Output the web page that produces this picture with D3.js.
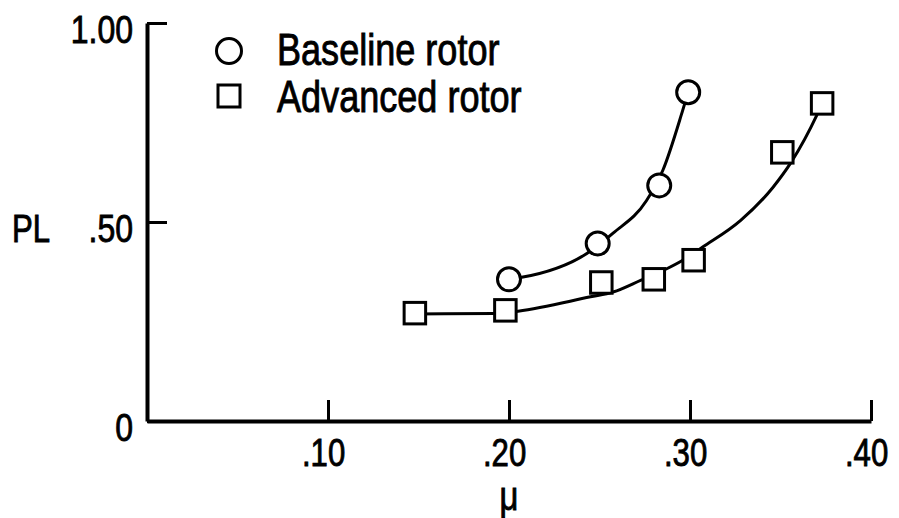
<!DOCTYPE html>
<html>
  <head>
    <title>PL vs mu - baseline and advanced rotor</title>
    <meta charset="UTF-8">
    <script src="https://d3js.org/d3.v7.min.js"></script>
  </head>
  <style type="text/css">
    body {
      margin: 0px;
      padding: 0px;
      background: #fff;
    }
    text {
      font-family: "Liberation Sans", Arial, sans-serif;
      fill: #000;
      stroke: #000;
      stroke-width: 0.9px;
    }
  </style>
  <body>
    <div id="chart"></div>
    <script>
      // measured points
      const baselineMu = [0.200, 0.249, 0.283, 0.299];
      const baselinePL = [0.356, 0.446, 0.592, 0.826];
      const advancedMu = [0.148, 0.198, 0.251, 0.280, 0.302, 0.351, 0.373];
      const advancedPL = [0.271, 0.278, 0.348, 0.356, 0.404, 0.675, 0.798];

      // faired curves
      const baselineFitMu = [0.199, 0.207, 0.243, 0.2575, 0.276, 0.285, 0.296, 0.299];
      const baselineFitPL = [0.356, 0.361, 0.421, 0.472, 0.554, 0.630, 0.781, 0.826];
      const advancedFitMu = [0.148, 0.192, 0.205, 0.245, 0.2575, 0.273, 0.286, 0.296, 0.307, 0.328, 0.346, 0.356, 0.370, 0.373];
      const advancedFitPL = [0.269, 0.270, 0.276, 0.312, 0.324, 0.354, 0.380, 0.404, 0.437, 0.504, 0.588, 0.651, 0.768, 0.798];

      const xTicks = [0.10, 0.20, 0.30, 0.40];
      const xTickLabels = [".10", ".20", ".30", ".40"];
      const yTicks = [0, 0.5, 1.0];
      const yTickLabels = ["0", ".50", "1.00"];

      const legendLabels = ["Baseline rotor", "Advanced rotor"];

      const width = 899, height = 518;
      const margin = { top: 23, right: 28, bottom: 97, left: 147 };
      const narrow = 0.82; // condensed lettering like the original

      const svg = d3.select("#chart").append("svg")
        .attr("width", width)
        .attr("height", height);

      const x = d3.scaleLinear().domain([0, 0.4]).range([margin.left, width - margin.right]);
      const y = d3.scaleLinear().domain([0, 1]).range([height - margin.bottom, margin.top]);

      // place a narrow text at (px, py)
      const narrowText = (sel, px, py) =>
        sel.attr("transform", `translate(${px},${py}) scale(${narrow},1)`);

      // x axis, ticks pointing up into the plot
      const xAxis = svg.append("g")
        .attr("transform", `translate(0,${y(0)})`)
        .call(d3.axisBottom(x)
          .tickValues(xTicks)
          .tickFormat((d, i) => xTickLabels[i])
          .tickSizeInner(-21)
          .tickSizeOuter(0)
          .tickPadding(17));
      xAxis.select(".domain").attr("stroke-width", 4);
      xAxis.selectAll(".tick line").attr("stroke-width", 3);
      xAxis.selectAll(".tick text")
        .attr("font-size", 38)
        .attr("y", 0)
        .attr("dy", 0)
        .attr("dx", -6)
        .call(narrowText, 0, 44.5);

      // y axis, ticks pointing right
      const yAxis = svg.append("g")
        .attr("transform", `translate(${x(0)},0)`)
        .call(d3.axisLeft(y)
          .tickValues(yTicks)
          .tickFormat((d, i) => yTickLabels[i])
          .tickSizeInner(-20)
          .tickSizeOuter(0)
          .tickPadding(14));
      yAxis.select(".domain").attr("stroke-width", 4);
      yAxis.selectAll(".tick line").attr("stroke-width", 3);
      yAxis.selectAll(".tick text")
        .attr("font-size", 39)
        .attr("x", 0)
        .attr("dy", 0)
        .call(narrowText, -14, 19);
      svg.selectAll(".tick text").attr("font-family", null);

      // axis titles
      svg.append("text")
        .attr("font-size", 38)
        .call(narrowText, 12, 242)
        .text("PL");
      svg.append("text")
        .attr("text-anchor", "middle")
        .attr("font-size", 40)
        .call(narrowText, x(0.2), 510)
        .text("μ");

      // fitted curves
      const line = d3.line()
        .x(d => x(d[0]))
        .y(d => y(d[1]))
        .curve(d3.curveMonotoneX);

      svg.append("path")
        .datum(d3.zip(baselineFitMu, baselineFitPL))
        .attr("d", line)
        .attr("fill", "none")
        .attr("stroke", "#000")
        .attr("stroke-width", 3);

      svg.append("path")
        .datum(d3.zip(advancedFitMu, advancedFitPL))
        .attr("d", line)
        .attr("fill", "none")
        .attr("stroke", "#000")
        .attr("stroke-width", 3);

      // markers
      const r = 11.5, side = 21.5;
      svg.selectAll(".baseline")
        .data(d3.zip(baselineMu, baselinePL))
        .enter().append("circle")
        .attr("class", "baseline")
        .attr("cx", d => x(d[0]))
        .attr("cy", d => y(d[1]))
        .attr("r", r)
        .attr("fill", "#fff")
        .attr("stroke", "#000")
        .attr("stroke-width", 3);

      svg.selectAll(".advanced")
        .data(d3.zip(advancedMu, advancedPL))
        .enter().append("rect")
        .attr("class", "advanced")
        .attr("x", d => x(d[0]) - side / 2)
        .attr("y", d => y(d[1]) - side / 2)
        .attr("width", side)
        .attr("height", side)
        .attr("fill", "#fff")
        .attr("stroke", "#000")
        .attr("stroke-width", 3);

      // legend
      const legend = svg.append("g").attr("transform", "translate(229,51)");
      legend.append("circle")
        .attr("r", 12.5)
        .attr("fill", "#fff")
        .attr("stroke", "#000")
        .attr("stroke-width", 3);
      legend.append("rect")
        .attr("x", -11)
        .attr("y", 45 - 11)
        .attr("width", 22)
        .attr("height", 22)
        .attr("fill", "#fff")
        .attr("stroke", "#000")
        .attr("stroke-width", 3);
      legend.selectAll(".legend-label")
        .data(legendLabels)
        .enter().append("text")
        .attr("class", "legend-label")
        .attr("font-size", 44)
        .each(function(d, i) {
          d3.select(this).call(narrowText, 48, 14 + i * 46.5);
        })
        .text(d => d);
    </script>
  </body>
</html>
